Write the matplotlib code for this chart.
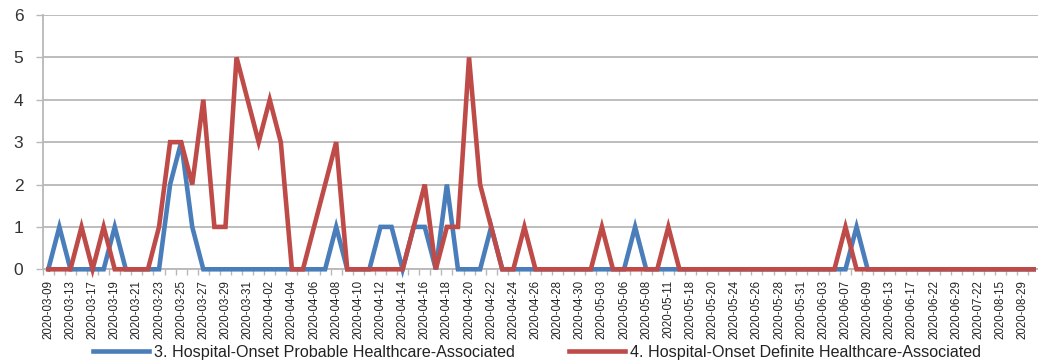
import numpy as np
import matplotlib
matplotlib.use("Agg")
import matplotlib.pyplot as plt
from matplotlib.lines import Line2D

plt.rcParams['font.family'] = ['Liberation Sans', 'DejaVu Sans']

dates = [
    "2020-03-09", "2020-03-11", "2020-03-13", "2020-03-15", "2020-03-17", "2020-03-18",
    "2020-03-19", "2020-03-20", "2020-03-21", "2020-03-22", "2020-03-23", "2020-03-24",
    "2020-03-25", "2020-03-26", "2020-03-27", "2020-03-28", "2020-03-29", "2020-03-30",
    "2020-03-31", "2020-04-01", "2020-04-02", "2020-04-03", "2020-04-04", "2020-04-05",
    "2020-04-06", "2020-04-07", "2020-04-08", "2020-04-09", "2020-04-10", "2020-04-11",
    "2020-04-12", "2020-04-13", "2020-04-14", "2020-04-15", "2020-04-16", "2020-04-17",
    "2020-04-18", "2020-04-19", "2020-04-20", "2020-04-21", "2020-04-22", "2020-04-23",
    "2020-04-24", "2020-04-25", "2020-04-26", "2020-04-27", "2020-04-28", "2020-04-29",
    "2020-04-30", "2020-05-01", "2020-05-03", "2020-05-05", "2020-05-06", "2020-05-07",
    "2020-05-08", "2020-05-10", "2020-05-11", "2020-05-13", "2020-05-18", "2020-05-19",
    "2020-05-20", "2020-05-22", "2020-05-24", "2020-05-25", "2020-05-26", "2020-05-27",
    "2020-05-28", "2020-05-30", "2020-05-31", "2020-06-01", "2020-06-03", "2020-06-05",
    "2020-06-07", "2020-06-08", "2020-06-09", "2020-06-11", "2020-06-13", "2020-06-15",
    "2020-06-17", "2020-06-19", "2020-06-22", "2020-06-25", "2020-06-29", "2020-07-05",
    "2020-07-22", "2020-08-01", "2020-08-15", "2020-08-20", "2020-08-29", "2020-09-03",
]

probable = [0, 1, 0, 0, 0, 0, 1, 0, 0, 0,
            0, 2, 3, 1, 0, 0, 0, 0, 0, 0,
            0, 0, 0, 0, 0, 0, 1, 0, 0, 0,
            1, 1, 0, 1, 1, 0, 2, 0, 0, 0,
            1, 0, 0, 0, 0, 0, 0, 0, 0, 0,
            0, 0, 0, 1, 0, 0, 0, 0, 0, 0,
            0, 0, 0, 0, 0, 0, 0, 0, 0, 0,
            0, 0, 0, 1, 0, 0, 0, 0, 0, 0,
            0, 0, 0, 0, 0, 0, 0, 0, 0, 0]

definite = [0, 0, 0, 1, 0, 1, 0, 0, 0, 0,
            1, 3, 3, 2, 4, 1, 1, 5, 4, 3,
            4, 3, 0, 0, 1, 2, 3, 0, 0, 0,
            0, 0, 0, 1, 2, 0, 1, 1, 5, 2,
            1, 0, 0, 1, 0, 0, 0, 0, 0, 0,
            1, 0, 0, 0, 0, 0, 1, 0, 0, 0,
            0, 0, 0, 0, 0, 0, 0, 0, 0, 0,
            0, 0, 1, 0, 0, 0, 0, 0, 0, 0,
            0, 0, 0, 0, 0, 0, 0, 0, 0, 0]

series_names = ["3. Hospital-Onset Probable Healthcare-Associated",
                "4. Hospital-Onset Definite Healthcare-Associated"]
blue = "#4a7ebb"
red = "#be4b48"
grid_gray = "#b8b8b8"

fig = plt.figure(figsize=(10.38, 3.64), dpi=100)
ax = fig.add_axes([0.0412, 0.2602, 0.96, 0.6986])

x = np.arange(len(dates))
ax.plot(x, probable, color=blue, lw=3.3, solid_joinstyle='miter', clip_on=False, zorder=3)
ax.plot(x, definite, color=red, lw=3.3, solid_joinstyle='miter', clip_on=False, zorder=4)

ax.set_xlim(-0.5, len(dates) - 0.5)
ax.set_ylim(0, 6)
ax.set_yticks(range(0, 7))
ax.yaxis.grid(True, color=grid_gray, lw=1.3)
ax.set_axisbelow(True)

ax.set_xticks(x[::2])
ax.set_xticklabels(dates[::2], rotation=90, fontsize=8.3, color="#222222")
ax.set_xticks(np.arange(-0.5, len(dates), 1.0), minor=True)
ax.tick_params(axis='x', which='major', length=0, pad=7.5)
ax.tick_params(axis='x', which='minor', length=4, width=1, color=grid_gray)
ax.tick_params(axis='y', length=5, width=1, color=grid_gray, pad=9,
               labelsize=12.5, labelcolor="#333333")

for s in ['top', 'right']:
    ax.spines[s].set_visible(False)
ax.spines['left'].set_color(grid_gray)
ax.spines['bottom'].set_color(grid_gray)
ax.spines['left'].set_linewidth(1.3)
ax.spines['bottom'].set_linewidth(1.3)

handles = [Line2D([], [], color=blue, lw=3.3), Line2D([], [], color=red, lw=3.3)]
fig.legend(handles, series_names, loc='center', bbox_to_anchor=(537 / 1038, 1 - 352 / 364),
           ncol=2, frameon=False, fontsize=11.6, handlelength=3.45, handletextpad=0.3,
           columnspacing=3.4, borderpad=0, borderaxespad=0, labelcolor="#222222")

fig.savefig("out.png", dpi=100)
